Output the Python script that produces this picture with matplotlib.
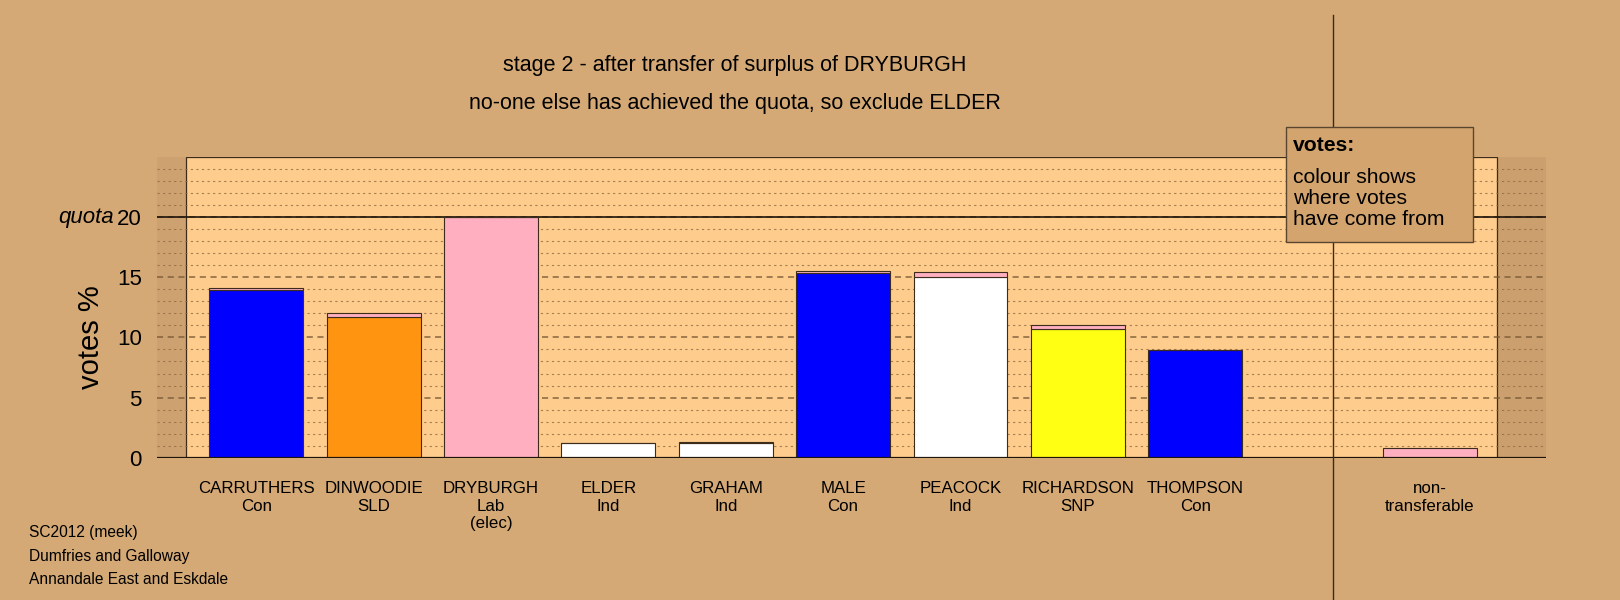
import matplotlib.pyplot as plt
from matplotlib.patches import Rectangle
from matplotlib.lines import Line2D

plt.rcParams['font.family'] = ['Liberation Sans', 'DejaVu Sans']

# data (votes %)
candidates = ['CARRUTHERS', 'DINWOODIE', 'DRYBURGH', 'ELDER', 'GRAHAM',
              'MALE', 'PEACOCK', 'RICHARDSON', 'THOMPSON']
parties = ['Con', 'SLD', 'Lab\n(elec)', 'Ind', 'Ind', 'Con', 'Ind', 'SNP', 'Con']
own_votes = [13.95, 11.7, 20.0, 1.2, 1.25, 15.35, 15.05, 10.72, 8.97]
from_dryburgh = [0.13, 0.36, 0.0, 0.04, 0.07, 0.14, 0.42, 0.28, 0.02]
own_colours = ['#0000FF', '#FF9410', '#FFAFC0', 'white', 'white',
               '#0000FF', 'white', '#FFFF14', '#0000FF']
transfer_colour = '#FFAFC0'
nontransferable = 0.78
quota = 20
yticks = [0, 5, 10, 15, 20]

fig_bg = '#D4A976'
plot_bg = '#FECC8C'
edge = '#3C2C1C'

fig = plt.figure(figsize=(16.2, 6.0), dpi=100, facecolor=fig_bg)
ax = fig.add_axes([157 / 1620, 1 - 457.7 / 600, 1389 / 1620, 300.7 / 600])
ax.set_facecolor(fig_bg)
ax.set_xlim(-0.847, 10.99)
ax.set_ylim(0, 25)
for s in ax.spines.values():
    s.set_visible(False)

# shaded margins and plot panel
ax.axvspan(-0.847, -0.6, color='#CEA270', zorder=0)
ax.axvspan(10.57, 10.99, color='#CCA06E', zorder=0)
ax.add_patch(Rectangle((-0.6, 0), 11.17, 25, facecolor=plot_bg,
                       edgecolor=edge, lw=0.9, zorder=0.5))

# grid lines
for v in range(1, 25):
    if v % 5:
        ax.axhline(v, color='#8E6A42', lw=0.8, ls=(0, (2, 3)), alpha=0.8, zorder=1)
    else:
        ax.axhline(v, color='#7A5A36', lw=1.1, ls=(0, (4, 3)), alpha=0.9, zorder=1)
ax.axhline(quota, color='#1E140A', lw=1.2, zorder=1.2)
ax.axhline(0, color='#1E140A', lw=1.6, zorder=3)

# bars
x = list(range(len(candidates)))
ax.bar(x, own_votes, width=0.8, color=own_colours, edgecolor=edge, lw=0.8, zorder=2)
ax.bar(x, from_dryburgh, width=0.8, bottom=own_votes, color=transfer_colour,
       edgecolor=edge, lw=0.8, zorder=2)
ax.bar([10], [nontransferable], width=0.8, color=transfer_colour,
       edgecolor=edge, lw=0.8, zorder=2)

ax.set_xticks(x + [10])
ax.set_xticklabels([c + '\n' + p for c, p in zip(candidates, parties)]
                   + ['non-\ntransferable'], fontsize=12.2, linespacing=1.2)
ax.tick_params(axis='x', length=0, pad=17)
ax.set_yticks(yticks)
ax.set_yticklabels([str(t) for t in yticks], fontsize=16)
ax.tick_params(axis='y', length=0, pad=11)
ax.text(-0.031, quota, 'quota', transform=ax.get_yaxis_transform(),
        ha='right', va='center', fontsize=16, style='italic')

# divider between candidates and non-transferable
fig.add_artist(Line2D([1333 / 1620] * 2, [0, 1 - 14.5 / 600], color='#3A2A1A',
                      lw=1, zorder=1))

# texts
fig.text(735 / 1620, 1 - 65 / 600, 'stage 2 - after transfer of surplus of DRYBURGH',
         ha='center', va='center', fontsize=15.5)
fig.text(735 / 1620, 1 - 103 / 600, 'no-one else has achieved the quota, so exclude ELDER',
         ha='center', va='center', fontsize=15.5)
fig.text(91 / 1620, 1 - 337 / 600, 'votes %', rotation=90, ha='center', va='center',
         fontsize=21)
for yy, t in zip([532, 556, 580], ['SC2012 (meek)', 'Dumfries and Galloway',
                                   'Annandale East and Eskdale']):
    fig.text(29 / 1620, 1 - yy / 600, t, ha='left', va='center', fontsize=11.2)

# key box
fig.add_artist(Rectangle((1286 / 1620, 1 - 242.3 / 600), 187 / 1620, 115.6 / 600,
                         transform=fig.transFigure, facecolor='#D3A46E',
                         edgecolor='#5A4630', lw=1, zorder=3))
fig.text(1293 / 1620, 1 - 145.6 / 600, 'votes:', ha='left', va='center',
         fontsize=15.2, fontweight='bold', zorder=4)
for yy, t in zip([177.7, 198.5, 219.5], ['colour shows', 'where votes', 'have come from']):
    fig.text(1293 / 1620, 1 - yy / 600, t, ha='left', va='center', fontsize=15.2, zorder=4)

fig.savefig('out.png', dpi=100, facecolor=fig_bg)
